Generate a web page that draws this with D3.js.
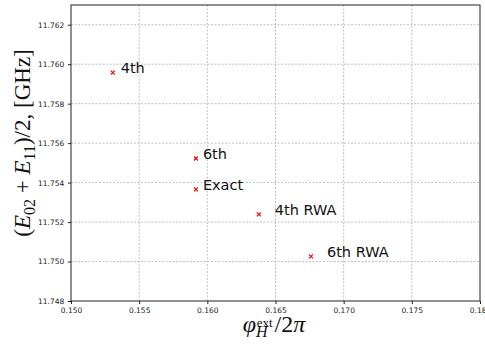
<!DOCTYPE html>
<html><head><meta charset="utf-8">
<script src="https://cdn.jsdelivr.net/npm/d3@7"></script>
<style>body{margin:0;background:#fff}</style>
</head><body>
<script>
const labels = ["4th", "6th", "Exact", "4th RWA", "6th RWA"];
const xs = [0.15306, 0.15916, 0.15916, 0.16378, 0.16760];
const ys = [11.75957, 11.75522, 11.75366, 11.75239, 11.75026];
const xTicks = [0.150, 0.155, 0.160, 0.165, 0.170, 0.175, 0.180];
const yTicks = [11.748, 11.750, 11.752, 11.754, 11.756, 11.758, 11.760, 11.762];

const labelGap = [8, 7, 7, 16, 16];

const W = 485, H = 347;
const m = {l: 71, r: 5, t: 5, b: 46};
const svg = d3.select("body").append("svg").attr("width", W).attr("height", H);
const x = d3.scaleLinear().domain([0.150, 0.180]).range([m.l, W - m.r]);
const y = d3.scaleLinear().domain([11.748, 11.763]).range([H - m.b, m.t]);

// grid
svg.append("g").selectAll("line").data(xTicks.slice(1, -1)).join("line")
  .attr("x1", d => x(d)).attr("x2", d => x(d)).attr("y1", m.t).attr("y2", H - m.b)
  .attr("stroke", "#b0b0b0").attr("stroke-width", 0.8).attr("stroke-dasharray", "2,1.5");
svg.append("g").selectAll("line").data(yTicks.slice(1)).join("line")
  .attr("x1", m.l).attr("x2", W - m.r).attr("y1", d => y(d)).attr("y2", d => y(d))
  .attr("stroke", "#b0b0b0").attr("stroke-width", 0.8).attr("stroke-dasharray", "2,1.5");

// axes
const xa = svg.append("g").attr("transform", `translate(0,${H - m.b})`)
  .call(d3.axisBottom(x).tickValues(xTicks).tickFormat(d3.format(".3f")).tickSize(3).tickSizeOuter(0));
const ya = svg.append("g").attr("transform", `translate(${m.l},0)`)
  .call(d3.axisLeft(y).tickValues(yTicks).tickFormat(d3.format(".3f")).tickSize(3).tickSizeOuter(0));
[xa, ya].forEach(a => {
  a.select(".domain").remove();
  a.selectAll("text").attr("font-family", "DejaVu Sans").attr("font-size", 7.5).attr("fill", "#222");
  a.selectAll("line").attr("stroke", "#222");
});
xa.selectAll("text").attr("dy", "0.85em");
ya.selectAll("text").attr("dx", "-0.1em");

// frame
svg.append("rect").attr("x", m.l).attr("y", m.t).attr("width", W - m.r - m.l).attr("height", H - m.b - m.t)
  .attr("fill", "none").attr("stroke", "#222").attr("stroke-width", 1);

// points
const g = svg.append("g");
const s = 2;
labels.forEach((lab, i) => {
  const cx = x(xs[i]), cy = y(ys[i]);
  g.append("path").attr("d", `M${cx - s},${cy - s}L${cx + s},${cy + s}M${cx - s},${cy + s}L${cx + s},${cy - s}`)
    .attr("stroke", "red").attr("stroke-width", 1.2);
  g.append("text").attr("x", cx + labelGap[i]).attr("y", cy + 0.5).text(lab)
    .attr("font-family", "DejaVu Sans").attr("font-size", 14.5).attr("fill", "#111");
});

// axis labels
const xl = svg.append("text").attr("x", 274).attr("y", 332).attr("text-anchor", "middle")
  .attr("font-family", "Liberation Serif").attr("font-size", 24).attr("fill", "#111");
xl.append("tspan").attr("font-style", "italic").text("φ");
xl.append("tspan").attr("font-style", "italic").attr("font-size", 16).attr("dy", 5).text("H");
xl.append("tspan").attr("font-size", 13).attr("dx", -11).attr("dy", -10).text("ext");
xl.append("tspan").attr("dy", 5).attr("dx", 2).text("/2");
xl.append("tspan").attr("font-style", "italic").text("π");

const yl = svg.append("text").attr("transform", "translate(30,143) rotate(-90)").attr("text-anchor", "middle")
  .attr("font-family", "Liberation Serif").attr("font-size", 23).attr("fill", "#111");
yl.append("tspan").text("(");
yl.append("tspan").attr("font-style", "italic").text("E");
yl.append("tspan").attr("font-size", 16).attr("dy", 5).text("02");
yl.append("tspan").attr("dy", -5).text(" + ");
yl.append("tspan").attr("font-style", "italic").text("E");
yl.append("tspan").attr("font-size", 16).attr("dy", 5).text("11");
yl.append("tspan").attr("dy", -5).text(")/2, [GHz]");
</script>
</body></html>
